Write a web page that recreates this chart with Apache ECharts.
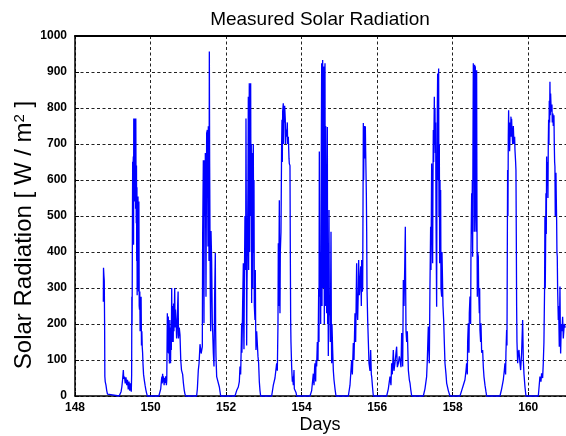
<!DOCTYPE html>
<html><head><meta charset="utf-8">
<script src="https://cdn.jsdelivr.net/npm/echarts@6/dist/echarts.min.js"></script>
<style>html,body{margin:0;padding:0;background:#fff}#c{width:566px;height:436px}</style>
</head><body><div id="c"></div><script>
// Measured solar radiation, [day, W/m2]
const day148 = [[148.750,262],[148.755,356],[148.765,335],[148.775,320],[148.785,180],[148.790,55],[148.800,40],[148.820,30],[148.840,15],[148.860,5],[148.880,0]];
const day149 = [[149.170,0],[149.200,5],[149.220,12],[149.240,25],[149.260,45],[149.280,72],[149.290,48],[149.310,54],[149.330,35],[149.350,52],[149.370,30],[149.390,45],[149.410,18],[149.430,40],[149.450,15],[149.470,35],[149.490,12],
 [149.500,60],[149.505,276],[149.510,200],[149.515,290],[149.520,470],[149.527,651],[149.532,460],[149.538,640],[149.544,665],[149.550,420],[149.556,771],[149.562,600],[149.568,771],[149.574,540],[149.580,560],[149.586,771],[149.592,700],[149.598,771],[149.604,520],[149.610,771],[149.616,600],[149.622,480],[149.628,640],[149.634,375],[149.640,580],[149.646,280],[149.652,452],[149.660,300],[149.668,554],[149.676,360],[149.684,290],[149.692,540],[149.700,250],[149.708,240],[149.716,290],[149.724,180],[149.732,276],[149.740,200],[149.750,276],[149.760,140],[149.770,180],[149.780,137],[149.790,120],[149.800,90],[149.815,60],[149.835,44],[149.855,30],[149.875,18],[149.895,8],[149.915,0]];
const day150 = [[150.220,0],[150.250,5],[150.270,20],[150.290,45],[150.300,54],[150.310,35],[150.320,62],[150.330,40],[150.340,55],[150.360,30],[150.370,50],[150.380,36],[150.400,55],[150.420,30],[150.430,45],[150.445,230],[150.450,120],[150.460,160],[150.470,221],[150.480,118],[150.490,180],[150.500,90],[150.510,211],[150.520,140],[150.530,91],[150.540,190],[150.550,128],[150.560,300],[150.570,150],[150.580,250],[150.590,190],[150.600,150],[150.610,257],[150.620,180],[150.640,300],[150.650,190],[150.660,240],[150.680,200],[150.690,160],[150.700,171],[150.720,260],[150.730,290],[150.740,160],[150.760,190],[150.780,170],[150.800,100],[150.820,72],[150.850,60],[150.870,36],[150.890,18],[150.910,6],[150.930,0]];
const day151 = [[151.220,0],[151.240,20],[151.265,72],[151.285,91],[151.310,144],[151.340,118],[151.371,137],[151.380,447],[151.398,655],[151.415,202],[151.424,655],[151.440,500],[151.451,675],[151.468,276],[151.486,730],[151.504,739],[151.521,415],[151.530,749],[151.548,375],[151.557,957],[151.565,645],[151.574,458],[151.583,276],[151.592,180],[151.601,458],[151.618,375],[151.636,200],[151.645,180],[151.662,120],[151.680,82],[151.697,276],[151.715,397],[151.724,180],[151.733,110],[151.751,54],[151.795,50],[151.822,25],[151.857,0]];
const day152 = [[152.236,0],[152.280,15],[152.324,25],[152.351,40],[152.368,82],[152.386,60],[152.404,150],[152.412,202],[152.420,120],[152.439,260],[152.457,369],[152.465,200],[152.474,130],[152.483,300],[152.500,500],[152.518,350],[152.527,771],[152.536,500],[152.545,140],[152.553,300],[152.571,480],[152.580,600],[152.589,831],[152.598,350],[152.606,700],[152.615,869],[152.624,400],[152.633,860],[152.642,550],[152.651,869],[152.660,500],[152.668,700],[152.677,258],[152.686,550],[152.695,675],[152.704,300],[152.712,640],[152.721,700],[152.730,400],[152.739,600],[152.748,250],[152.765,211],[152.774,350],[152.783,200],[152.792,128],[152.810,180],[152.827,183],[152.845,110],[152.862,91],[152.880,40],[152.898,15],[152.915,0]];
const day153 = [[153.207,0],[153.251,30],[153.295,50],[153.339,91],[153.357,70],[153.374,200],[153.383,424],[153.392,250],[153.410,544],[153.418,300],[153.427,230],[153.436,400],[153.454,456],[153.471,700],[153.480,767],[153.489,650],[153.498,790],[153.515,813],[153.524,700],[153.533,800],[153.542,760],[153.551,806],[153.568,767],[153.577,700],[153.586,740],[153.604,720],[153.621,760],[153.630,700],[153.648,720],[153.666,660],[153.674,646],[153.692,640],[153.701,400],[153.710,211],[153.718,150],[153.736,82],[153.754,40],[153.763,54],[153.780,30],[153.798,72],[153.807,20],[153.825,25],[153.851,10],[153.869,0]];
const day154 = [[154.222,0],[154.266,15],[154.310,62],[154.328,30],[154.345,80],[154.354,91],[154.372,40],[154.381,100],[154.398,82],[154.416,150],[154.434,100],[154.443,202],[154.452,300],[154.460,150],[154.469,679],[154.478,300],[154.487,276],[154.496,400],[154.505,200],[154.513,456],[154.522,700],[154.531,924],[154.540,250],[154.549,700],[154.557,933],[154.566,300],[154.575,533],[154.584,900],[154.593,915],[154.601,200],[154.610,880],[154.619,924],[154.628,250],[154.637,750],[154.646,747],[154.654,400],[154.663,230],[154.672,500],[154.681,747],[154.690,200],[154.698,350],[154.707,111],[154.716,300],[154.725,517],[154.734,250],[154.751,220],[154.760,150],[154.778,456],[154.787,200],[154.796,91],[154.804,200],[154.822,128],[154.840,70],[154.857,45],[154.884,20],[154.910,0]];
const day155 = [[155.237,0],[155.281,30],[155.325,100],[155.343,60],[155.369,147],[155.387,100],[155.413,230],[155.431,150],[155.457,369],[155.466,250],[155.484,211],[155.502,300],[155.510,378],[155.528,280],[155.546,313],[155.564,360],[155.581,250],[155.590,378],[155.608,290],[155.617,300],[155.634,758],[155.643,600],[155.652,700],[155.661,750],[155.670,660],[155.687,749],[155.696,680],[155.705,675],[155.714,560],[155.723,456],[155.731,300],[155.749,211],[155.767,150],[155.784,91],[155.811,70],[155.828,128],[155.846,60],[155.855,54],[155.881,20],[155.899,0]];
const day156 = [[156.252,0],[156.296,20],[156.340,54],[156.366,30],[156.384,91],[156.401,60],[156.428,128],[156.445,70],[156.472,91],[156.490,110],[156.516,137],[156.534,80],[156.561,91],[156.587,110],[156.605,100],[156.631,80],[156.649,175],[156.667,120],[156.676,82],[156.693,322],[156.711,250],[156.720,248],[156.729,350],[156.746,470],[156.755,300],[156.764,180],[156.782,150],[156.799,180],[156.826,72],[156.852,45],[156.870,36],[156.887,20],[156.914,0]];
const day157 = [[157.222,0],[157.266,20],[157.310,54],[157.328,100],[157.354,193],[157.372,120],[157.381,91],[157.398,300],[157.416,470],[157.425,350],[157.443,646],[157.452,550],[157.469,369],[157.478,600],[157.487,739],[157.496,650],[157.514,831],[157.522,700],[157.531,800],[157.540,675],[157.549,760],[157.558,500],[157.575,248],[157.584,600],[157.593,800],[157.602,896],[157.611,600],[157.619,850],[157.628,910],[157.637,500],[157.646,700],[157.655,369],[157.664,600],[157.672,400],[157.681,572],[157.690,300],[157.708,276],[157.717,400],[157.734,405],[157.743,250],[157.761,211],[157.778,150],[157.796,91],[157.823,60],[157.840,36],[157.884,15],[157.928,0]];
const day158 = [[158.193,0],[158.237,15],[158.281,30],[158.325,45],[158.352,70],[158.369,91],[158.387,60],[158.396,150],[158.413,202],[158.431,120],[158.440,230],[158.458,276],[158.475,200],[158.484,400],[158.502,563],[158.511,450],[158.520,600],[158.528,387],[158.537,700],[158.546,924],[158.555,600],[158.564,900],[158.572,456],[158.581,920],[158.590,700],[158.599,916],[158.608,500],[158.617,456],[158.625,800],[158.634,905],[158.643,500],[158.652,276],[158.661,400],[158.678,387],[158.687,300],[158.705,230],[158.714,300],[158.722,183],[158.740,150],[158.749,202],[158.767,120],[158.793,128],[158.811,80],[158.828,54],[158.855,30],[158.881,12],[158.899,0]];
const day159 = [[159.252,0],[159.296,20],[159.340,45],[159.366,70],[159.384,91],[159.401,60],[159.410,120],[159.428,183],[159.437,140],[159.446,400],[159.454,628],[159.463,500],[159.472,720],[159.481,794],[159.490,700],[159.499,760],[159.507,680],[159.516,711],[159.525,760],[159.534,740],[159.543,776],[159.552,720],[159.560,770],[159.569,740],[159.587,700],[159.605,750],[159.622,700],[159.640,720],[159.649,683],[159.666,650],[159.675,628],[159.684,450],[159.693,248],[159.702,150],[159.720,91],[159.737,120],[159.755,128],[159.773,100],[159.799,72],[159.825,120],[159.852,211],[159.870,100],[159.887,62],[159.914,25],[159.940,0]];
const day160 = [[160.267,0],[160.310,54],[160.337,40],[160.354,63],[160.381,50],[160.398,90],[160.416,150],[160.433,300],[160.442,498],[160.451,300],[160.460,420],[160.469,563],[160.478,450],[160.487,665],[160.495,600],[160.504,640],[160.513,650],[160.522,550],[160.531,700],[160.540,767],[160.548,700],[160.557,820],[160.566,760],[160.575,873],[160.584,780],[160.593,840],[160.601,813],[160.610,790],[160.628,810],[160.637,760],[160.654,785],[160.663,750],[160.681,780],[160.690,700],[160.699,650],[160.707,637],[160.716,500],[160.725,600],[160.734,620],[160.743,550],[160.752,489],[160.760,400],[160.769,387],[160.778,300],[160.796,211],[160.805,250],[160.822,137],[160.840,304],[160.849,200],[160.858,118],[160.875,200],[160.893,180],[160.911,220],[160.928,160],[160.955,200],[160.981,190]];

const titleText = 'Measured Solar Radiation';
const xName = 'Days';
const yName = 'Solar Radiation [ W / m{sup|2} ]';

const series = [].concat(day148, day149, day150, day151, day152, day153, day154, day155, day156, day157, day158, day159, day160);
const FONT = 'Liberation Sans, Arial, Helvetica, sans-serif';

const chart = echarts.init(document.getElementById('c'), null, {renderer: 'canvas'});
chart.setOption({
  animation: false,
  backgroundColor: '#ffffff',
  grid: {left: 75, right: 0, top: 36, bottom: 40, containLabel: false},
  xAxis: [{
    type: 'value', min: 148, max: 161, interval: 2, position: 'bottom',
    axisLine: {show: true, onZero: false, lineStyle: {color: '#000', width: 1.5}},
    axisTick: {show: true, inside: true, length: 4, lineStyle: {color: '#000'}},
    axisLabel: {margin: 6, color: '#000', fontSize: 12, fontWeight: 'bold', fontFamily: FONT, showMaxLabel: false,
      formatter: function (v) { return String(v); }},
    splitLine: {show: true, lineStyle: {color: '#222', width: 1, type: [3, 2.5]}}
  }, {
    type: 'value', min: 148, max: 161, position: 'top',
    axisLine: {show: true, onZero: false, lineStyle: {color: '#000', width: 2}},
    axisTick: {show: false}, axisLabel: {show: false}, splitLine: {show: false}
  }],
  yAxis: [{
    type: 'value', min: 0, max: 1000, interval: 100,
    axisLine: {show: true, lineStyle: {color: '#000', width: 1.5}},
    axisTick: {show: true, inside: true, length: 4, lineStyle: {color: '#000'}},
    axisLabel: {margin: 8, color: '#000', fontSize: 12, fontWeight: 'bold', fontFamily: FONT,
      formatter: function (v) { return String(v); }},
    splitLine: {show: true, lineStyle: {color: '#222', width: 1, type: [3, 2.5]}}
  }],
  graphic: [
    {type: 'text', x: 320, y: 20, style: {text: titleText, fill: '#000', font: 'normal 19px ' + FONT, align: 'center', verticalAlign: 'middle'}},
    {type: 'text', x: 320, y: 425, style: {text: xName, fill: '#000', font: 'normal 18px ' + FONT, align: 'center', verticalAlign: 'middle'}},
    {type: 'text', x: 24, y: 235, rotation: Math.PI / 2, style: {
      text: yName, fill: '#000', fontSize: 24, fontFamily: FONT, align: 'center', verticalAlign: 'middle',
      rich: {sup: {fontSize: 15, fontFamily: FONT, fill: '#000', verticalAlign: 'top'}}
    }}
  ],
  series: [{
    type: 'line', data: series, showSymbol: false, symbol: 'none',
    lineStyle: {color: '#0000ff', width: 1.3}, clip: false, silent: true, z: 5
  }]
});
</script></body></html>
